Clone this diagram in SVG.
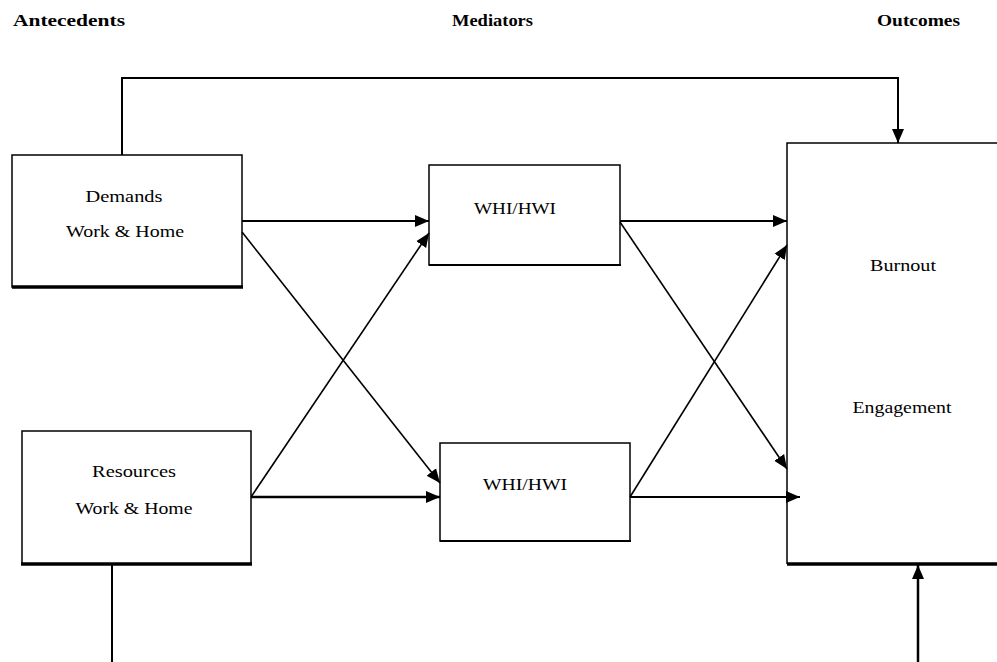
<svg xmlns="http://www.w3.org/2000/svg" width="997" height="662" viewBox="0 0 997 662">
<style>
.box{fill:#fff;stroke:#000;stroke-width:1.5}
.bot{stroke:#000;stroke-width:3.5}
.lbl{font-family:"Liberation Serif","Times New Roman",serif;font-size:17px;fill:#000}
.hdr{font-family:"Liberation Serif","Times New Roman",serif;font-size:16px;font-weight:bold;fill:#000}
.c{fill:none;stroke:#000;stroke-width:2}
.d{fill:none;stroke:#000;stroke-width:1.6}
</style>
<defs>
<marker id="ah" markerUnits="userSpaceOnUse" markerWidth="16" markerHeight="16" refX="14" refY="7.5" orient="auto">
<path d="M0,1.5 L14,7.5 L0,13.5 Z" fill="#000"/>
</marker>
</defs>
<rect width="997" height="662" fill="#fff"/>
<g id="headers">
<text class="hdr" x="13" y="26" textLength="112" lengthAdjust="spacingAndGlyphs">Antecedents</text>
<text class="hdr" x="452" y="26" textLength="81" lengthAdjust="spacingAndGlyphs">Mediators</text>
<text class="hdr" x="877" y="26" textLength="83" lengthAdjust="spacingAndGlyphs">Outcomes</text>
</g>
<g id="demands">
<rect class="box" x="12" y="155" width="230" height="132"/>
<line class="bot" x1="12" y1="287" x2="243" y2="287"/>
<text class="lbl" x="124" y="202" text-anchor="middle" textLength="77" lengthAdjust="spacingAndGlyphs">Demands</text>
<text class="lbl" x="125" y="237" text-anchor="middle" textLength="118" lengthAdjust="spacingAndGlyphs">Work &amp; Home</text>
</g>
<g id="resources">
<rect class="box" x="22" y="431" width="229" height="133"/>
<line class="bot" x1="21" y1="564" x2="252" y2="564"/>
<text class="lbl" x="134" y="477" text-anchor="middle" textLength="84" lengthAdjust="spacingAndGlyphs">Resources</text>
<text class="lbl" x="134" y="514" text-anchor="middle" textLength="117" lengthAdjust="spacingAndGlyphs">Work &amp; Home</text>
</g>
<g id="whi1">
<rect class="box" x="429" y="165" width="191" height="100"/>
<line class="bot" x1="429" y1="265" x2="621" y2="265" style="stroke-width:2"/>
<text class="lbl" x="515" y="214" text-anchor="middle" textLength="82" lengthAdjust="spacingAndGlyphs">WHI/HWI</text>
</g>
<g id="whi2">
<rect class="box" x="440" y="443" width="190" height="98"/>
<line class="bot" x1="440" y1="541" x2="631" y2="541" style="stroke-width:2"/>
<text class="lbl" x="525" y="490" text-anchor="middle" textLength="84" lengthAdjust="spacingAndGlyphs">WHI/HWI</text>
</g>
<g id="outcomes">
<path d="M997,143 L787,143 L787,564" fill="#fff" stroke="#000" stroke-width="1.5"/>
<line class="bot" x1="787" y1="564" x2="997" y2="564"/>
<text class="lbl" x="903" y="271" text-anchor="middle" textLength="66" lengthAdjust="spacingAndGlyphs">Burnout</text>
<text class="lbl" x="902" y="413" text-anchor="middle" textLength="99" lengthAdjust="spacingAndGlyphs">Engagement</text>
</g>
<g id="connectors">
<polyline class="c" points="122,155 122,78 898,78 898,143" marker-end="url(#ah)"/>
<line class="c" x1="242" y1="221" x2="429" y2="221" marker-end="url(#ah)"/>
<line class="d" x1="242" y1="232" x2="440" y2="483" marker-end="url(#ah)"/>
<line class="d" x1="251" y1="497" x2="429" y2="233" marker-end="url(#ah)"/>
<line class="c" x1="251" y1="497" x2="440" y2="497" style="stroke-width:2.5" marker-end="url(#ah)"/>
<line class="c" x1="620" y1="221" x2="787" y2="221" marker-end="url(#ah)"/>
<line class="d" x1="620" y1="222" x2="787" y2="469" marker-end="url(#ah)"/>
<line class="d" x1="630" y1="497" x2="787" y2="245" marker-end="url(#ah)"/>
<line class="c" x1="630" y1="497" x2="800" y2="497" marker-end="url(#ah)"/>
<line class="c" x1="112" y1="564" x2="112" y2="662"/>
<line class="c" x1="918" y1="662" x2="918" y2="565" style="stroke-width:2.5" marker-end="url(#ah)"/>
</g>
</svg>
